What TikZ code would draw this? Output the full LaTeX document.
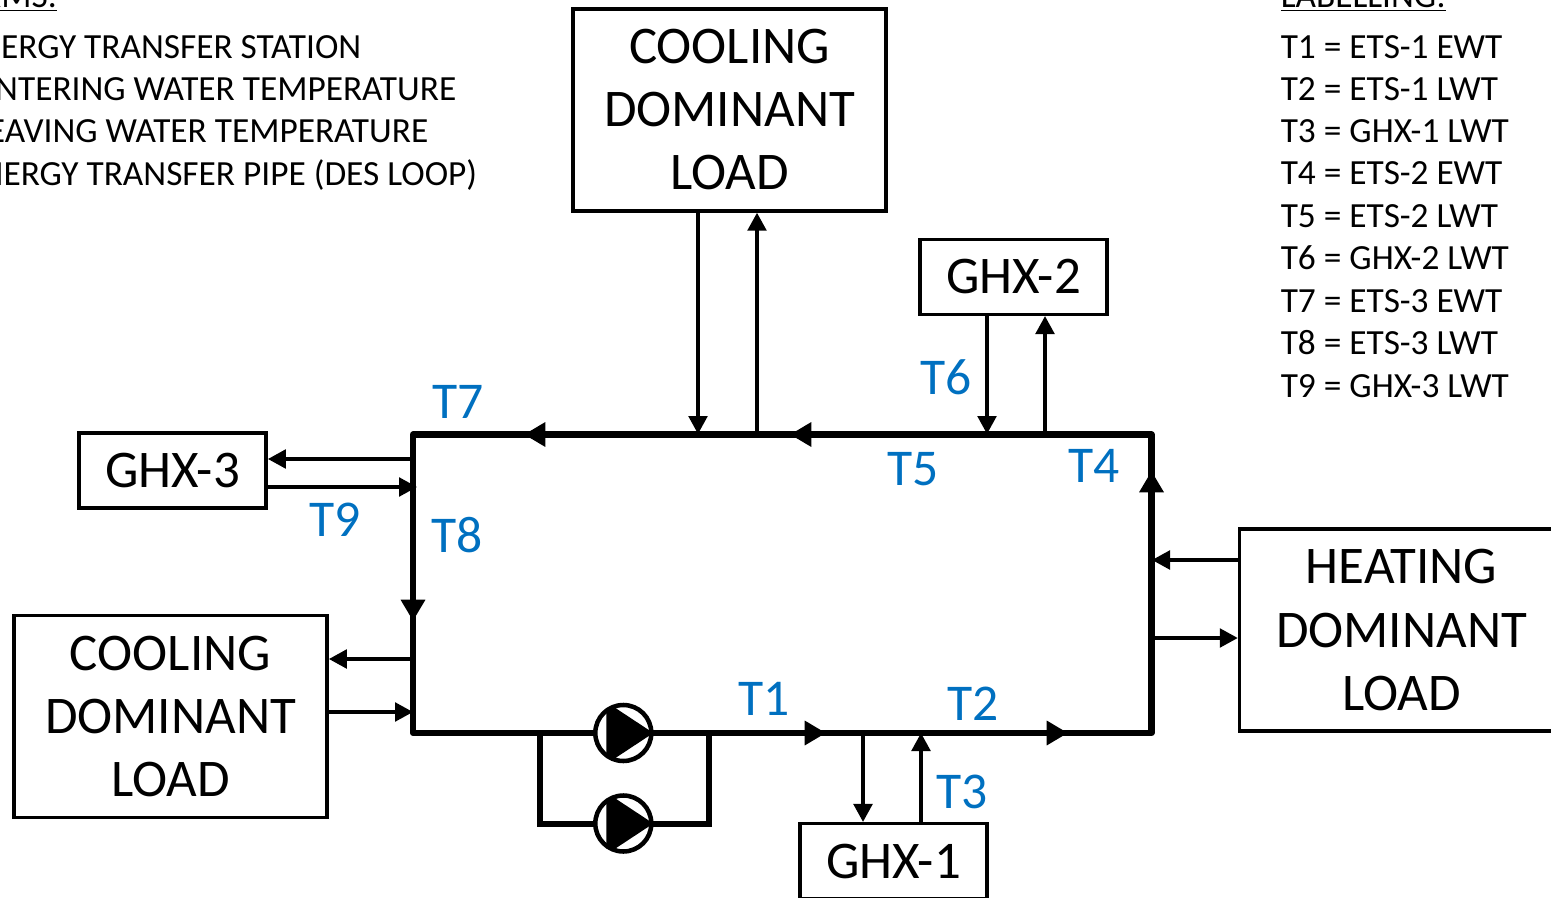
\documentclass[tikz,border=0pt]{standalone}
\usepackage{fontspec}
\setmainfont{Carlito}
\usepackage{xcolor}
\usepackage{tikz}
\usetikzlibrary{arrows.meta}
\definecolor{tempblue}{HTML}{0070C0}
\newcommand{\bigfont}{\fontsize{39.7}{47.25}\selectfont}
\newcommand{\tempfont}{\fontsize{38.7}{47.25}\selectfont}
\newcommand{\smallfont}{\fontsize{26.5}{31.7}\selectfont}
\tikzset{
  box/.style={draw, line width=2.6pt, inner sep=0pt, align=center, font=\bigfont},
  loadbox/.style={box, minimum width=235pt, minimum height=151.5pt},
  ghxbox/.style={box, minimum width=140.5pt, minimum height=56pt},
  pipe/.style={line width=4.6pt},
  pipehead/.style={-{Triangle[length=16pt,width=17.5pt]}, line width=4.6pt},
  flow/.style={-{Triangle[length=13.5pt,width=14pt]}, line width=2.6pt},
  temp/.style={anchor=base west, inner sep=0pt, text=tempblue, font=\tempfont},
  leg/.style={anchor=base west, inner sep=0pt, font=\smallfont},
  terms/.style={anchor=base east, inner sep=0pt, font=\smallfont},
  pump/.style={circle, draw, fill=white, line width=3.4pt, inner sep=0pt, minimum size=42pt,
    path picture={\fill[black] ([shift={(-17,-31)}]path picture bounding box.center)
      -- ([shift={(30,0)}]path picture bounding box.center)
      -- ([shift={(-17,31)}]path picture bounding box.center) -- cycle;}}
}
\begin{document}
\begin{tikzpicture}[x=0.75pt,y=-0.75pt]
\useasboundingbox (0,0) rectangle (1551,898);

\coordinate (nw) at (413,434.5);
\coordinate (ne) at (1151.5,434.5);
\coordinate (se) at (1151.5,733);
\coordinate (sw) at (413,733);
\draw [pipe, line join=round] (nw) -- (ne) -- (se) -- (sw) -- cycle;

\coordinate (pa) at (540,733);
\coordinate (pb) at (709,733);
\coordinate (pc) at (709,824);
\coordinate (pd) at (540,824);
\draw [pipe, line join=miter] (pa) -- (pd) -- (pc) -- (pb);

\coordinate (topa) at (560,434.5);
\coordinate (topb) at (524,434.5);
\coordinate (topc) at (826,434.5);
\coordinate (topd) at (790,434.5);
\coordinate (riga) at (1151.5,505);
\coordinate (rigb) at (1151.5,471);
\coordinate (lefa) at (413,590);
\coordinate (lefb) at (413,621);
\coordinate (bota) at (790,733);
\coordinate (botb) at (826,733);
\coordinate (botc) at (1032,733);
\coordinate (botd) at (1068,733);
\draw [pipehead] (topa) -- (topb);
\draw [pipehead] (topc) -- (topd);
\draw [pipehead] (riga) -- (rigb);
\draw [pipehead] (lefa) -- (lefb);
\draw [pipehead] (bota) -- (botb);
\draw [pipehead] (botc) -- (botd);

\node [loadbox] (cooltop) at (729.5,110) {COOLING\\DOMINANT\\LOAD};
\node [loadbox] (coolleft) at (170.5,716.5) {COOLING\\DOMINANT\\LOAD};
\node [loadbox, minimum width=243pt] (heat) at (1401.5,630) {HEATING\\DOMINANT\\LOAD};
\node [ghxbox] (ghxone) at (893.5,861) {GHX-1};
\node [ghxbox] (ghxtwo) at (1013.5,277) {GHX-2};
\node [ghxbox] (ghxthree) at (172.5,470.5) {GHX-3};

\node [pump] (pumpa) at (623.3,733) {};
\node [pump] (pumpb) at (623.3,823.5) {};

\coordinate (ca) at (698,434);
\coordinate (cb) at (757,434);
\coordinate (cc) at (987,434);
\coordinate (cd) at (1045,434);
\coordinate (ce) at (413,459);
\coordinate (cf) at (417,487);
\coordinate (cg) at (413,659);
\coordinate (ch) at (413,712);
\coordinate (ci) at (1152,560);
\coordinate (cj) at (1152,638);
\coordinate (ck) at (863,733);
\coordinate (cl) at (921,733);
\draw [flow] (cooltop.south -| ca) -- (ca);
\draw [flow] (cb) -- (cooltop.south -| cb);
\draw [flow] (ghxtwo.south -| cc) -- (cc);
\draw [flow] (cd) -- (ghxtwo.south -| cd);
\draw [flow] (ce) -- (ghxthree.east |- ce);
\draw [flow] (ghxthree.east |- cf) -- (cf);
\draw [flow] (cg) -- (coolleft.east |- cg);
\draw [flow] (coolleft.east |- ch) -- (ch);
\draw [flow] (heat.west |- ci) -- (ci);
\draw [flow] (cj) -- (heat.west |- cj);
\draw [flow] (ck) -- (ghxone.north -| ck);
\draw [flow] (ghxone.north -| cl) -- (cl);

\node [temp] (tone) at (738,715) {T1};
\node [temp] (ttwo) at (947,720) {T2};
\node [temp] (tthree) at (936,808.5) {T3};
\node [temp] (tfour) at (1068,482.5) {T4};
\node [temp] (tfive) at (887,485) {T5};
\node [temp] (tsix) at (920,394.5) {T6};
\node [temp] (tseven) at (432,418) {T7};
\node [temp] (teight) at (431,552.5) {T8};
\node [temp] (tnine) at (309,536) {T9};

\node [terms] (termhead) at (57.5,8) {\underline{TERMS:}};
\node [terms] (terma) at (361.5,59) {ENERGY TRANSFER STATION};
\node [terms] (termb) at (456.5,101) {ENTERING WATER TEMPERATURE};
\node [terms] (termc) at (428.5,143) {LEAVING WATER TEMPERATURE};
\node [terms] (termd) at (477.5,186) {ENERGY TRANSFER PIPE (DES LOOP)};

\node [leg] (leghead) at (1280.5,8) {\underline{LABELLING:}};
\node [leg] (lega) at (1280.5,59) {T1 = ETS-1 EWT};
\node [leg] (legb) at (1280.5,101) {T2 = ETS-1 LWT};
\node [leg] (legc) at (1280.5,143) {T3 = GHX-1 LWT};
\node [leg] (legd) at (1280.5,185) {T4 = ETS-2 EWT};
\node [leg] (lege) at (1280.5,228) {T5 = ETS-2 LWT};
\node [leg] (legf) at (1280.5,270) {T6 = GHX-2 LWT};
\node [leg] (legg) at (1280.5,312) {T7 = ETS-3 EWT};
\node [leg] (legh) at (1280.5,354) {T8 = ETS-3 LWT};
\node [leg] (legi) at (1280.5,397) {T9 = GHX-3 LWT};
\end{tikzpicture}
\end{document}
